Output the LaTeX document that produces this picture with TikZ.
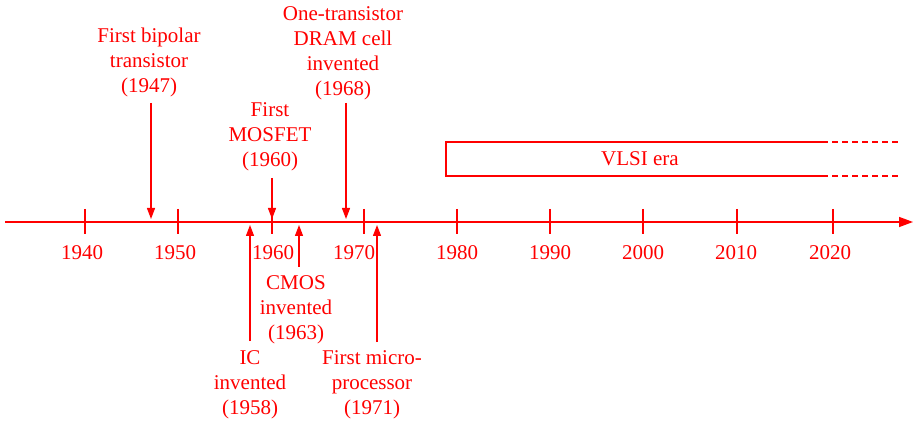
\documentclass[tikz,border=0pt]{standalone}
\usepackage{fontspec}
\setmainfont{Liberation Serif}
\usetikzlibrary{arrows.meta}
\definecolor{linered}{RGB}{255,0,0}
\tikzset{
  lbl/.style={text=linered, align=center, inner sep=0pt,
              font=\fontsize{21}{25}\selectfont},
  yearlbl/.style={lbl},
  mainaxis/.style={draw=linered, line width=1.5pt,
                   -{Triangle[length=14pt,width=10pt]}},
  tickmark/.style={draw=linered, line width=1.6pt},
  event/.style={draw=linered, line width=1.3pt,
                -{Triangle[length=11pt,width=8pt]}},
  erabox/.style={draw=linered, line width=1.5pt},
  eradash/.style={draw=linered, line width=1.5pt, dash pattern=on 6pt off 4pt}
}
\begin{document}
\begin{tikzpicture}[x=1pt,y=-1pt]
\useasboundingbox (0,0) rectangle (915,430);

% time axis
\coordinate (axL) at (5,222);
\coordinate (axR) at (913,222);
\draw[mainaxis] (axL) -- (axR);

% decade ticks
\foreach \x [count=\i] in {85,178,272,364,457,550,643,737,833} {
  \coordinate (tt\i) at (\x,209);
  \coordinate (tb\i) at (\x,234);
  \draw[tickmark] (tt\i) -- (tb\i);
}

% decade labels
\node[yearlbl] (d1940) at (82,253) {1940};
\node[yearlbl] (d1950) at (175,253) {1950};
\node[yearlbl] (d1960) at (273,253) {1960};
\node[yearlbl] (d1970) at (354,253) {1970};
\node[yearlbl] (d1980) at (457,253) {1980};
\node[yearlbl] (d1990) at (550,253) {1990};
\node[yearlbl] (d2000) at (643,253) {2000};
\node[yearlbl] (d2010) at (736,253) {2010};
\node[yearlbl] (d2020) at (830,253) {2020};

% events above the axis
\node[lbl] (bipolar) at (149,62) {First bipolar\\transistor\\(1947)};
\node[lbl] (mosfet) at (270,137) {First\\MOSFET\\(1960)};
\node[lbl] (dram) at (343,53) {One-transistor\\DRAM cell\\invented\\(1968)};

\coordinate (s1947) at (151,103);
\coordinate (e1947) at (151,219);
\coordinate (s1960) at (272,178);
\coordinate (e1960) at (272,219);
\coordinate (s1968) at (346,103);
\coordinate (e1968) at (346,219);
\draw[event] (s1947) -- (e1947);
\draw[event] (s1960) -- (e1960);
\draw[event] (s1968) -- (e1968);

% events below the axis
\node[lbl] (cmos) at (296,310) {CMOS\\invented\\(1963)};
\node[lbl] (ic) at (250,385) {IC\\invented\\(1958)};
\node[lbl] (micro) at (372,385) {First micro-\\processor\\(1971)};

\coordinate (s1958) at (250,341);
\coordinate (e1958) at (250,225);
\coordinate (s1963) at (299,267);
\coordinate (e1963) at (299,225);
\coordinate (s1971) at (377,342);
\coordinate (e1971) at (377,225);
\draw[event] (s1958) -- (e1958);
\draw[event] (s1963) -- (e1963);
\draw[event] (s1971) -- (e1971);

% VLSI era band
\coordinate (vTR) at (822,142);
\coordinate (vTL) at (446,142);
\coordinate (vBL) at (446,176);
\coordinate (vBR) at (822,176);
\coordinate (vTE) at (898,142);
\coordinate (vBE) at (898,176);
\draw[erabox] (vTR) -- (vTL) -- (vBL) -- (vBR);
\draw[eradash] (vTR) -- (vTE);
\draw[eradash] (vBR) -- (vBE);
\node[lbl] (vlsi) at (640,159) {VLSI era};
\end{tikzpicture}
\end{document}
